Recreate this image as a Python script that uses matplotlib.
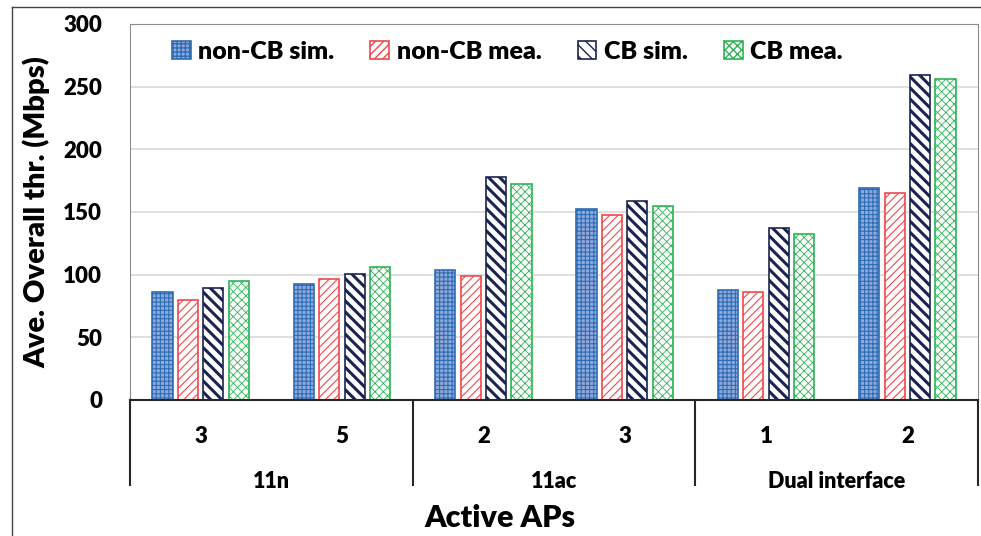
import matplotlib.pyplot as plt
import numpy as np
from matplotlib.lines import Line2D

plt.rcParams['font.family'] = ['Lato', 'DejaVu Sans']

groups = ['11n', '11ac', 'Dual interface']
categories = ['3', '5', '2', '3', '1', '2']
series = ['non-CB sim.', 'non-CB mea.', 'CB sim.', 'CB mea.']
non_cb_sim = [86, 92.5, 104, 152, 88, 169]
non_cb_mea = [80, 96.5, 99, 148, 86, 165]
cb_sim = [89.5, 100.5, 178, 159, 137.5, 259]
cb_mea = [95, 106.5, 172.5, 155, 132.5, 256]

values = [non_cb_sim, non_cb_mea, cb_sim, cb_mea]
faces = ['#8FA9DB', 'white', 'white', 'white']
edges = ['#2E6DB4', '#F0474C', '#1B2450', '#2DB356']
hatches = ['++++', '////', '\\\\\\', 'xxxx']
hatch_lw = [0.8, 0.8, 2.2, 0.6]

fig = plt.figure(figsize=(9.81, 5.36), dpi=100)
ax = fig.add_axes([130 / 981, 136 / 536, 848 / 981, 376 / 536])

x = np.arange(len(categories))
w = 0.143
pitch = 0.18
handles = []
for i in range(4):
    with plt.rc_context({'hatch.linewidth': hatch_lw[i]}):
        b = ax.bar(x + (i - 1.5) * pitch, values[i], w, color=faces[i],
                   edgecolor=edges[i], hatch=hatches[i], linewidth=1.2,
                   label=series[i], zorder=3)
    handles.append(b)

ax.set_xlim(-0.5, 5.5)
ax.set_ylim(0, 300)
ax.set_yticks(range(0, 301, 50))
ax.yaxis.grid(True, color='#D9D9D9', linewidth=1.2, zorder=0)
ax.tick_params(axis='y', length=0, pad=20, labelsize=16)
for t in ax.get_yticklabels():
    t.set_fontweight('heavy')
ax.set_xticks([])
for s in ['top', 'right', 'left']:
    ax.spines[s].set_color('#8C8C8C')
ax.spines['bottom'].set_color('#262626')
ax.spines['bottom'].set_linewidth(1.5)
ax.spines['bottom'].set_zorder(4)

ax.set_ylabel('Ave. Overall thr. (Mbps)', fontsize=21, fontweight='heavy',
              labelpad=9)

# hierarchical x axis
trans = ax.get_xaxis_transform()
for xb in [-0.5, 1.5, 3.5, 5.5]:
    ax.add_line(Line2D([xb, xb], [0, -0.226], transform=trans,
                       color='#262626', linewidth=1.5, clip_on=False))
for xi, c in zip(x, categories):
    ax.text(xi, -0.098, c, transform=trans, ha='center', va='center',
            fontsize=16, fontweight='heavy')
for gi, g in enumerate(groups):
    ax.text(2 * gi + 0.5, -0.218, g, transform=trans, ha='center',
            va='center', fontsize=15.5, fontweight='heavy')
fig.text(0.51, 0.033, 'Active APs', ha='center', va='center', fontsize=22,
         fontweight='heavy')

ax.legend(handles=handles, loc='upper center', ncol=4, frameon=False,
          bbox_to_anchor=(0.445, 1.015), prop={'size': 18, 'weight': 'heavy'},
          handlelength=0.75, handleheight=0.75, handletextpad=0.3,
          columnspacing=1.45)

# outer frame of the picture
fig.add_artist(Line2D([12 / 981, 12 / 981], [0, 1 - 7 / 536],
                      transform=fig.transFigure, color='#444444', linewidth=1))
fig.add_artist(Line2D([12 / 981, 1], [1 - 7 / 536, 1 - 7 / 536],
                      transform=fig.transFigure, color='#444444', linewidth=1))

fig.savefig('out.png', dpi=100)
